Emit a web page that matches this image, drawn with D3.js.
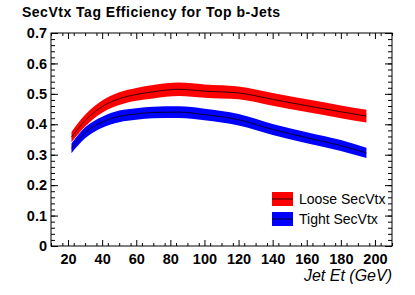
<!DOCTYPE html>
<html lang="en">
<head>
  <meta charset="utf-8" />
  <title>SecVtx Tag Efficiency</title>
  <script src="https://cdn.jsdelivr.net/npm/d3@7"></script>
  <style>
    body { margin: 0; background: #fff; }
    text { font-family: "Liberation Sans", Arial, Helvetica, sans-serif; }
  </style>
</head>
<body>
  <script>
    // jet Et bin centres (GeV)
    var jetEt = [22, 30, 40, 50, 60, 70, 85, 100, 120, 140, 160, 180, 195];
    // loose SecVtx efficiency and its error band
    var loose = [0.358, 0.412, 0.458, 0.484, 0.498, 0.507, 0.515, 0.509, 0.503, 0.482, 0.461, 0.441, 0.427];
    var looseErr = [0.017, 0.019, 0.02, 0.021, 0.021, 0.022, 0.022, 0.022, 0.021, 0.021, 0.021, 0.021, 0.021];
    // tight SecVtx efficiency and its error band
    var tight = [0.321, 0.372, 0.407, 0.426, 0.434, 0.439, 0.440, 0.432, 0.415, 0.383, 0.356, 0.330, 0.306];
    var tightErr = [0.016, 0.018, 0.018, 0.019, 0.019, 0.019, 0.019, 0.019, 0.019, 0.018, 0.018, 0.018, 0.017];

    var xTicks = [20, 40, 60, 80, 100, 120, 140, 160, 180, 200];
    var yTicks = [0, 0.1, 0.2, 0.3, 0.4, 0.5, 0.6, 0.7];

    var width = 415, height = 295;
    var padLeft = 51, padRight = 392, padTop = 33, padBottom = 246;

    var svg = d3.select("body").append("svg")
      .attr("width", width).attr("height", height);

    var x = d3.scaleLinear().domain([10, 210]).range([padLeft, padRight]);
    var y = d3.scaleLinear().domain([0, 0.7]).range([padBottom, padTop]);

    var minorX = d3.range(10, 210.01, 20 / 3).filter(function(d) {
      return xTicks.indexOf(Math.round(d)) < 0 || Math.abs(d - Math.round(d)) > 0.01;
    });
    var minorY = d3.range(0, 0.701, 0.02);

    function series(vals, errs, colour) {
      var pts = jetEt.map(function(d, i) { return { x: d, v: vals[i], e: errs[i] }; });
      var area = d3.area()
        .x(function(d) { return x(d.x); })
        .y0(function(d) { return y(d.v - d.e); })
        .y1(function(d) { return y(d.v + d.e); })
        .curve(d3.curveMonotoneX);
      var line = d3.line()
        .x(function(d) { return x(d.x); })
        .y(function(d) { return y(d.v); })
        .curve(d3.curveMonotoneX);
      svg.append("path").datum(pts).attr("d", area).attr("fill", colour);
      svg.append("path").datum(pts).attr("d", line)
        .attr("fill", "none").attr("stroke", "#000").attr("stroke-width", 0.8);
    }

    series(loose, looseErr, "#ff0000");
    series(tight, tightErr, "#0000ff");

    // frame
    svg.append("rect")
      .attr("x", padLeft).attr("y", padTop)
      .attr("width", padRight - padLeft).attr("height", padBottom - padTop)
      .attr("fill", "none").attr("stroke", "#000").attr("stroke-width", 1);

    // axes, ticks point inwards
    function styleAxis(g) {
      g.select(".domain").remove();
      g.selectAll("line").attr("stroke", "#000");
    }
    function styleLabels(g) {
      g.selectAll("text").attr("font-size", 14.5).attr("font-weight", "bold").attr("fill", "#000")
        .attr("font-family", "Liberation Sans, Arial, sans-serif");
    }

    svg.append("g").attr("transform", "translate(0," + padBottom + ")")
      .call(d3.axisBottom(x).tickValues(xTicks).tickSize(-6).tickPadding(8).tickFormat(d3.format("d")))
      .call(styleAxis).call(styleLabels);
    svg.append("g").attr("transform", "translate(0," + padBottom + ")")
      .call(d3.axisBottom(x).tickValues(minorX).tickSize(-3).tickFormat(""))
      .call(styleAxis);
    svg.append("g").attr("transform", "translate(0," + padTop + ")")
      .call(d3.axisTop(x).tickValues(xTicks).tickSize(-6).tickFormat(""))
      .call(styleAxis);
    svg.append("g").attr("transform", "translate(0," + padTop + ")")
      .call(d3.axisTop(x).tickValues(minorX).tickSize(-3).tickFormat(""))
      .call(styleAxis);

    svg.append("g").attr("transform", "translate(" + padLeft + ",0)")
      .call(d3.axisLeft(y).tickValues(yTicks).tickSize(-7).tickPadding(4)
        .tickFormat(function(d) { return d === 0 ? "0" : d3.format(".1f")(d); }))
      .call(styleAxis).call(styleLabels);
    svg.append("g").attr("transform", "translate(" + padLeft + ",0)")
      .call(d3.axisLeft(y).tickValues(minorY).tickSize(-4).tickFormat(""))
      .call(styleAxis);
    svg.append("g").attr("transform", "translate(" + padRight + ",0)")
      .call(d3.axisRight(y).tickValues(yTicks).tickSize(-7).tickFormat(""))
      .call(styleAxis);
    svg.append("g").attr("transform", "translate(" + padRight + ",0)")
      .call(d3.axisRight(y).tickValues(minorY).tickSize(-4).tickFormat(""))
      .call(styleAxis);

    // title and axis label
    svg.append("text").attr("x", 22).attr("y", 17)
      .attr("font-size", 14).attr("font-weight", "bold").attr("letter-spacing", 0.5)
      .text("SecVtx Tag Efficiency for Top b-Jets");
    svg.append("text").attr("x", padRight).attr("y", 281)
      .attr("text-anchor", "end").attr("font-size", 16).attr("font-style", "italic")
      .text("Jet Et (GeV)");

    // legend
    var legend = [
      { label: "Loose SecVtx", colour: "#ff0000" },
      { label: "Tight SecVtx", colour: "#0000ff" }
    ];
    var lg = svg.selectAll("g.legend").data(legend).enter().append("g")
      .attr("class", "legend")
      .attr("transform", function(d, i) { return "translate(272," + (192 + i * 20) + ")"; });
    lg.append("rect").attr("width", 21).attr("height", 14)
      .attr("fill", function(d) { return d.colour; });
    lg.append("line").attr("x1", 0).attr("x2", 21).attr("y1", 7).attr("y2", 7)
      .attr("stroke", "#000").attr("stroke-width", 0.8);
    lg.append("text").attr("x", 27).attr("y", 12).attr("font-size", 14)
      .text(function(d) { return d.label; });
  </script>
</body>
</html>
